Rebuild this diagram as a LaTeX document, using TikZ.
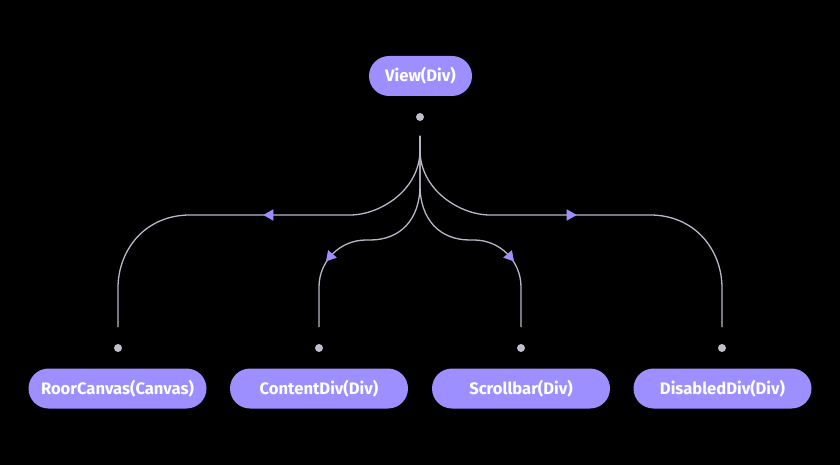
\documentclass[tikz,border=0pt]{standalone}
\usepackage{xcolor}
\usepackage{fontspec}
\setsansfont{Fira Sans}
\usetikzlibrary{arrows,shapes,calc,positioning}
\definecolor{nodefill}{HTML}{9D8FFF}
\definecolor{linkgray}{HTML}{B9B7C8}
\definecolor{dotgray}{HTML}{C0BECD}

\begin{document}
\begin{tikzpicture}[x=1pt, y=-1pt]
		\tikzstyle{nodebox}=[rectangle, rounded corners=20pt, fill=nodefill, text=white, minimum height=40pt, minimum width=178pt, inner sep=0pt, font=\sffamily\bfseries\fontsize{16.6}{18}\selectfont]
		\tikzstyle{portdot}=[circle, fill=dotgray, inner sep=0pt, minimum size=8pt]
		\tikzstyle{link}=[line width=1.3pt, draw=linkgray]
		\tikzstyle{headmark}=[isosceles triangle, isosceles triangle apex angle=60, fill=nodefill, inner sep=0pt, minimum height=10pt, sloped, allow upside down]
		\fill [black] (0,0) rectangle (840,465);
		\node [nodebox, minimum width=103pt] (view) at (420.5,76) {View(Div)};
		\node [portdot] (viewdot) at (420,117) {};
		\node [nodebox] (rc) at (117.5,388.5) {RoorCanvas(Canvas)};
		\node [nodebox] (cd) at (319,388.5) {ContentDiv(Div)};
		\node [nodebox] (sb) at (521,388.5) {Scrollbar(Div)};
		\node [nodebox] (dd) at (722.5,388.5) {DisabledDiv(Div)};
		\node [portdot] (rcdot) at (118,348) {};
		\node [portdot] (cddot) at (319,348) {};
		\node [portdot] (sbdot) at (521,348) {};
		\node [portdot] (dddot) at (722,348) {};
		\coordinate (fork) at ($(viewdot)+(0,19)$);
		\coordinate (rcin) at ($(rcdot)+(0,-21)$);
		\coordinate (cdin) at ($(cddot)+(0,-21)$);
		\coordinate (sbin) at ($(sbdot)+(0,-21)$);
		\coordinate (ddin) at ($(dddot)+(0,-21)$);
		\draw [link] (fork) -- (420,150) .. controls (420,190) and (380,215) .. (350,215) -- node [headmark] {} (190,215) .. controls (145,215) and (118,250) .. (118,288) -- (rcin);
		\draw [link] (fork) -- (420,150) .. controls (420,190) and (460,215) .. (490,215) -- node [headmark] {} (650,215) .. controls (695,215) and (722,250) .. (722,288) -- (ddin);
		\draw [link] (fork) -- (420,185) .. controls (420,220) and (400,240) .. (370,240) -- (366,240) .. controls (340,240) and (319,261) .. node [headmark, pos=.55] {} (319,287) -- (cdin);
		\draw [link] (fork) -- (420,185) .. controls (420,220) and (440,240) .. (470,240) -- (474,240) .. controls (500,240) and (521,261) .. node [headmark, pos=.55] {} (521,287) -- (sbin);
		\end{tikzpicture}
\end{document}
